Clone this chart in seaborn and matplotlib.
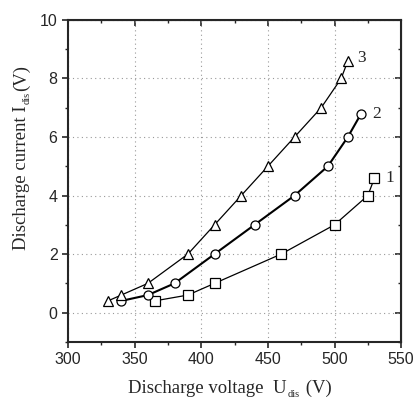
import numpy as np
import pandas as pd
import seaborn as sns
import matplotlib.pyplot as plt
from matplotlib.ticker import MultipleLocator

# data
u1 = [365, 390, 410, 460, 500, 525, 530]
i1 = [0.4, 0.6, 1.0, 2.0, 3.0, 4.0, 4.6]
u2 = [340, 360, 380, 410, 440, 470, 495, 510, 520]
i2 = [0.4, 0.6, 1.0, 2.0, 3.0, 4.0, 5.0, 6.0, 6.8]
u3 = [330, 340, 360, 390, 410, 430, 450, 470, 490, 505, 510]
i3 = [0.4, 0.6, 1.0, 2.0, 3.0, 4.0, 5.0, 6.0, 7.0, 8.0, 8.6]
curve_labels = ["1", "2", "3"]
xlabel_parts = ["Discharge voltage  U", "dis", " (V)"]
ylabel_parts = ["Discharge current I", "dis", "(V)"]

sns.set_style("ticks")
plt.rcParams["font.family"] = ["Liberation Sans", "DejaVu Sans"]

W, H = 417, 398
fig = plt.figure(figsize=(W / 100, H / 100), dpi=100)
ax = fig.add_axes([0.163, 0.141, 0.799, 0.809])

series = [(u1, i1, "s", 0.9), (u2, i2, "o", 1.5), (u3, i3, "^", 0.9)]
for (u, i, m, lw), lab in zip(series, curve_labels):
    df = pd.DataFrame({"U": u, "I": i})
    sns.lineplot(data=df, x="U", y="I", ax=ax, color="black", lw=lw, sort=False,
                 marker=m, markersize=6.5, markerfacecolor="white",
                 markeredgecolor="black", markeredgewidth=0.9)
ax.set_xlabel("")
ax.set_ylabel("")

# curve numbers next to the last points
ax.text(u1[-1] + 8, i1[-1], curve_labels[0], fontsize=12.5, family="Liberation Serif", va="center")
ax.text(u2[-1] + 8, i2[-1], curve_labels[1], fontsize=12.5, family="Liberation Serif", va="center")
ax.text(u3[-1] + 7, i3[-1] + 0.1, curve_labels[2], fontsize=12.5, family="Liberation Serif", va="center")

ax.set_xlim(300, 550)
ax.set_ylim(-1, 10)
ax.xaxis.set_major_locator(MultipleLocator(50))
ax.xaxis.set_minor_locator(MultipleLocator(25))
ax.yaxis.set_minor_locator(MultipleLocator(1))
ax.set_yticks([0, 2, 4, 6, 8, 10])
ax.grid(True, which="major", ls=(0, (1, 3)), color="#999999", lw=0.8)
ax.tick_params(which="major", direction="out", length=4, width=1.2, labelsize=11.5)
ax.tick_params(which="minor", direction="out", length=2.5, width=1.0)
for s in ax.spines.values():
    s.set_linewidth(1.5)

# inward ticks on top and right
top = ax.secondary_xaxis("top")
top.xaxis.set_major_locator(MultipleLocator(50))
top.xaxis.set_minor_locator(MultipleLocator(25))
top.tick_params(which="major", direction="in", length=4, width=1.2, labeltop=False)
top.tick_params(which="minor", direction="in", length=2.5, width=1.0)
right = ax.secondary_yaxis("right")
right.yaxis.set_major_locator(MultipleLocator(2))
right.yaxis.set_minor_locator(MultipleLocator(1))
right.tick_params(which="major", direction="in", length=4, width=1.2, labelright=False)
right.tick_params(which="minor", direction="in", length=2.5, width=1.0)

# axis labels with small, lowered subscripts (pixel positions from the reference)
renderer = fig.canvas.get_renderer()
big, small = 13.5, 7.5


def chain_label(parts, x0, y0, vertical):
    pos = [x0, y0]
    for k, txt in enumerate(parts):
        sub = k == 1
        px, py = pos
        if sub:
            if vertical:
                px += 4
            else:
                py -= 4
        t = fig.text(px / W, py / H, txt, fontsize=small if sub else big,
                     family="Liberation Serif", ha="left", va="baseline",
                     rotation=90 if vertical else 0, rotation_mode="anchor")
        bb = t.get_window_extent(renderer)
        if vertical:
            pos[1] = py + bb.height + 1
        else:
            pos[0] = px + bb.width + 1


chain_label(xlabel_parts, 128, H - 393, False)
chain_label(ylabel_parts, 26, H - 250, True)

plt.savefig("out.png", dpi=100)
